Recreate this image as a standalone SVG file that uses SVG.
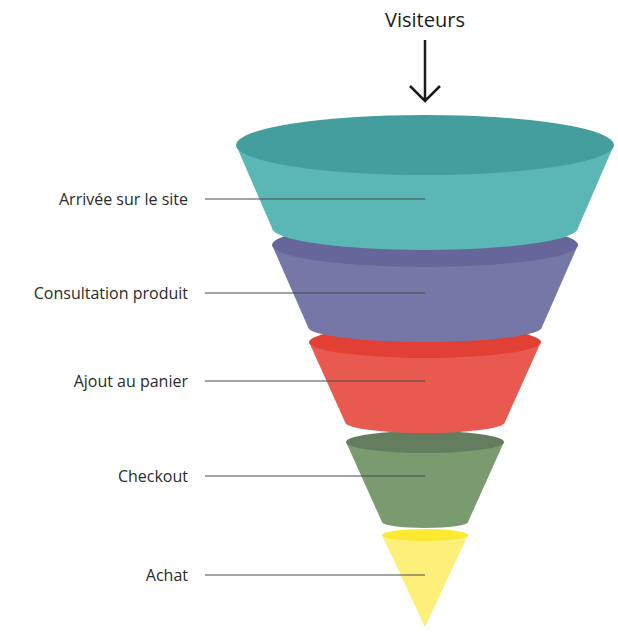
<svg xmlns="http://www.w3.org/2000/svg" width="618" height="638" viewBox="0 0 618 638">
<style>
.lbl{font-family:"Open Sans","Liberation Sans",sans-serif;font-size:16px;fill:#2b2b2b;text-anchor:end}
.ttl{font-family:"Open Sans","Liberation Sans",sans-serif;font-size:20px;fill:#1a1a1a;text-anchor:middle}
.ln{stroke:#4a4a4a;stroke-width:1.2;fill:none}
</style>
<rect width="618" height="638" fill="#fff"/>
<g id="visiteurs">
<text class="ttl" x="425" y="27">Visiteurs</text>
<path d="M425 40 V101 M410 86 L425 101 L440 86" stroke="#1a1a1a" stroke-width="2.5" fill="none"/>
</g>
<g id="achat">
<path d="M382 535 L425 627 L468 535 Z" fill="#fdf07a"/>
<ellipse cx="425" cy="535" rx="43" ry="6" fill="#fbe932"/>
</g>
<g id="checkout">
<path d="M346 442 L382 522 A43 6 0 0 0 468 522 L504 442 Z" fill="#7a9a70"/>
<ellipse cx="425" cy="442" rx="79" ry="11" fill="#647d5f"/>
</g>
<g id="panier">
<path d="M309 342 L345 422 A80 11 0 0 0 505 422 L541 342 Z" fill="#e85a50"/>
<ellipse cx="425" cy="342" rx="116" ry="16" fill="#e34035"/>
</g>
<g id="consultation">
<path d="M272 245 L308 327 A117 15 0 0 0 542 327 L578 245 Z" fill="#7577a6"/>
<ellipse cx="425" cy="245" rx="153" ry="22" fill="#66669a"/>
</g>
<g id="arrivee">
<path d="M236 145 L272 228 A153 22 0 0 0 578 228 L614 145 Z" fill="#5bb7b6"/>
<ellipse cx="425" cy="145" rx="189" ry="30" fill="#459e9e"/>
</g>
<g id="connectors">
<path class="ln" d="M205 199 H425 M205 293 H425 M205 381 H425 M205 476 H425 M205 575 H425"/>
</g>
<g id="labels">
<text class="lbl" x="188" y="205">Arrivée sur le site</text>
<text class="lbl" x="188" y="299">Consultation produit</text>
<text class="lbl" x="188" y="387">Ajout au panier</text>
<text class="lbl" x="188" y="482">Checkout</text>
<text class="lbl" x="188" y="581">Achat</text>
</g>
</svg>
